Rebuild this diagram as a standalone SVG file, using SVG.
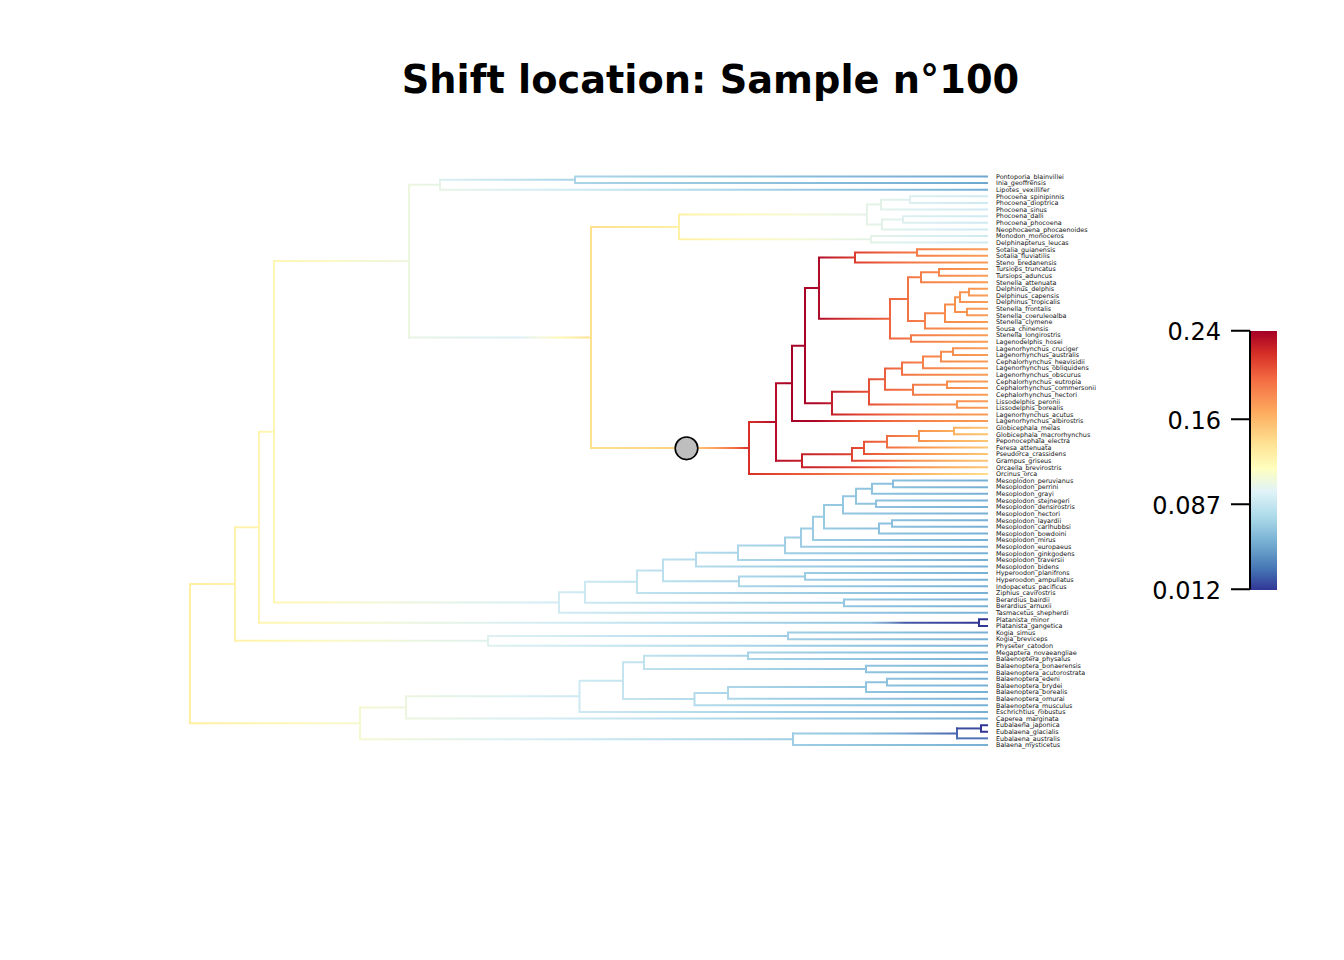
<svg xmlns="http://www.w3.org/2000/svg" width="1344" height="960" viewBox="0 0 1344 960">
<style>
.tl{font-family:"DejaVu Sans","Liberation Sans",sans-serif;font-size:6.4px;fill:#111}
.br{fill:none;stroke-width:2;stroke-linecap:square}
.title{font-family:"DejaVu Sans","Liberation Sans",sans-serif;font-size:38.3px;font-weight:bold;fill:#000}
.tick{font-family:"DejaVu Sans","Liberation Sans",sans-serif;font-size:24px;fill:#000}
</style>
<defs>
<linearGradient id="gbg" gradientUnits="userSpaceOnUse" x1="0" y1="0" x2="1000" y2="0">
<stop offset="0.19" stop-color="#FFEFA0"/><stop offset="0.26" stop-color="#FFF5B0"/><stop offset="0.33" stop-color="#FBF9C6"/><stop offset="0.40" stop-color="#EEF6DC"/><stop offset="0.47" stop-color="#E2F2EC"/><stop offset="0.54" stop-color="#D6EDF4"/><stop offset="0.60" stop-color="#C9E7F1"/><stop offset="0.70" stop-color="#B3DBEB"/><stop offset="0.80" stop-color="#9DCDE4"/><stop offset="0.90" stop-color="#89BFDD"/><stop offset="0.987" stop-color="#78B0D5"/>
</linearGradient>
<linearGradient id="gtop" gradientUnits="userSpaceOnUse" x1="0" y1="0" x2="1000" y2="0">
<stop offset="0.409" stop-color="#E8F4E4"/><stop offset="0.45" stop-color="#D8EEF3"/><stop offset="0.575" stop-color="#AAD5E8"/><stop offset="0.70" stop-color="#97C8E0"/><stop offset="0.85" stop-color="#82B9DA"/><stop offset="0.987" stop-color="#6FA7D0"/>
</linearGradient>
<linearGradient id="gplat" gradientUnits="userSpaceOnUse" x1="0" y1="0" x2="1000" y2="0">
<stop offset="0.26" stop-color="#FFF5B0"/><stop offset="0.33" stop-color="#FBF9C6"/><stop offset="0.40" stop-color="#EEF6DC"/><stop offset="0.47" stop-color="#E2F2EC"/><stop offset="0.54" stop-color="#D6EDF4"/><stop offset="0.60" stop-color="#C9E7F1"/><stop offset="0.70" stop-color="#B3DBEB"/><stop offset="0.80" stop-color="#9DCDE4"/><stop offset="0.87" stop-color="#8EC3DF"/><stop offset="0.89" stop-color="#6E93C6"/><stop offset="0.905" stop-color="#4559A6"/><stop offset="0.98" stop-color="#313695"/>
</linearGradient>
<linearGradient id="geub" gradientUnits="userSpaceOnUse" x1="0" y1="0" x2="1000" y2="0">
<stop offset="0.793" stop-color="#9ECEE4"/><stop offset="0.86" stop-color="#90C4DF"/><stop offset="0.90" stop-color="#7AA9D2"/><stop offset="0.94" stop-color="#5579B8"/><stop offset="0.957" stop-color="#4A66AE"/>
</linearGradient>
<linearGradient id="gdstem" gradientUnits="userSpaceOnUse" x1="0" y1="0" x2="1000" y2="0">
<stop offset="0.409" stop-color="#E8F4E4"/><stop offset="0.47" stop-color="#E0F1EF"/><stop offset="0.52" stop-color="#DBEFF3"/><stop offset="0.545" stop-color="#F4F8D4"/><stop offset="0.56" stop-color="#FFF6B5"/><stop offset="0.591" stop-color="#FEE08E"/>
</linearGradient>
<linearGradient id="gpho" gradientUnits="userSpaceOnUse" x1="0" y1="0" x2="1000" y2="0">
<stop offset="0.591" stop-color="#FEE08E"/><stop offset="0.64" stop-color="#FEE99C"/><stop offset="0.679" stop-color="#FFF1A6"/><stop offset="0.74" stop-color="#FFF8BF"/><stop offset="0.80" stop-color="#F5F9D4"/><stop offset="0.866" stop-color="#E5F3E6"/><stop offset="0.92" stop-color="#DAEFF1"/><stop offset="0.987" stop-color="#CFE9F2"/>
</linearGradient>
<linearGradient id="gdcirc" gradientUnits="userSpaceOnUse" x1="0" y1="0" x2="1000" y2="0">
<stop offset="0.591" stop-color="#FEE08E"/><stop offset="0.686" stop-color="#FDD27E"/><stop offset="0.71" stop-color="#FCAE63"/><stop offset="0.735" stop-color="#F36B42"/><stop offset="0.749" stop-color="#D73027"/>
</linearGradient>
<linearGradient id="gdel" gradientUnits="userSpaceOnUse" x1="0" y1="0" x2="1000" y2="0">
<stop offset="0.749" stop-color="#D73027"/><stop offset="0.77" stop-color="#BC1429"/><stop offset="0.79" stop-color="#A50026"/><stop offset="0.815" stop-color="#AA0629"/><stop offset="0.835" stop-color="#C5242B"/><stop offset="0.86" stop-color="#DF4431"/><stop offset="0.89" stop-color="#EE6540"/><stop offset="0.92" stop-color="#F57F4A"/><stop offset="0.96" stop-color="#F8934F"/><stop offset="0.987" stop-color="#F99D58"/>
</linearGradient>
<linearGradient id="gbf" gradientUnits="userSpaceOnUse" x1="0" y1="0" x2="1000" y2="0">
<stop offset="0.776" stop-color="#B8102A"/><stop offset="0.802" stop-color="#C32029"/><stop offset="0.85" stop-color="#DD4131"/><stop offset="0.865" stop-color="#E75434"/><stop offset="0.887" stop-color="#F06E43"/><stop offset="0.92" stop-color="#F8934F"/><stop offset="0.955" stop-color="#FCB160"/><stop offset="0.987" stop-color="#FDC574"/>
</linearGradient>
<linearGradient id="gorc" gradientUnits="userSpaceOnUse" x1="0" y1="0" x2="1000" y2="0">
<stop offset="0.749" stop-color="#D73027"/><stop offset="0.79" stop-color="#E85234"/><stop offset="0.85" stop-color="#F6834A"/><stop offset="0.90" stop-color="#FBA85C"/><stop offset="0.95" stop-color="#FDC977"/><stop offset="0.987" stop-color="#FEDC88"/>
</linearGradient>
<linearGradient id="gleg" gradientUnits="userSpaceOnUse" x1="0" y1="331" x2="0" y2="590">
<stop offset="0" stop-color="#A50026"/><stop offset="0.09" stop-color="#D73027"/><stop offset="0.19" stop-color="#F46D43"/><stop offset="0.32" stop-color="#FDAE61"/><stop offset="0.43" stop-color="#FEE090"/><stop offset="0.53" stop-color="#FFFFBF"/><stop offset="0.62" stop-color="#E0F3F8"/><stop offset="0.72" stop-color="#ABD9E9"/><stop offset="0.82" stop-color="#74ADD1"/><stop offset="0.92" stop-color="#4575B4"/><stop offset="1" stop-color="#313695"/>
</linearGradient>
</defs>
<rect width="1344" height="960" fill="#fff"/>
<text class="title" x="710.5" y="93" text-anchor="middle">Shift location: Sample n°100</text>
<g id="connectors">
<path class="br" stroke="url(#gbg)" d="M190 584.05V723.3M235 527.25V640.86M259 431.82V622.68M274 261.12V602.52M409 184.77V337.46M440 179.81V189.72M488 635.9V645.81M788 632.59V639.2M893 480.56V487.17M872 483.87V493.78M876 500.39V507M856 488.82V503.7M843 496.26V513.61M892 520.22V526.83M879 523.53V533.44M824 504.94V528.48M813 516.71V540.05M801 528.38V546.66M785 537.52V553.27M738 545.4V559.88M696 552.64V566.49M805 573.1V579.71M739 576.41V586.32M663 559.57V581.36M637 570.46V592.93M844 599.54V606.15M585 581.7V602.85M559 592.27V612.76M748 652.42V659.03M866 665.64V672.25M644 655.73V668.95M887 678.86V685.47M866 682.17V692.08M728 687.12V698.69M694.5 692.91V705.3M623 662.34V699.1M579.5 680.72V711.91M406 696.32V718.52M793 733.4V744.96M360 707.42V739.18
M190 584.05H235M190 723.3H360M235 527.25H259M235 640.86H488M259 431.82H274M274 261.12H409M274 602.52H559M409 184.77H440M440 189.72H987M488 635.9H788M488 645.81H987M788 632.59H987M788 639.2H987
M559 592.27H585M559 612.76H987M585 581.7H637M585 602.85H844M844 599.54H987M844 606.15H987M637 570.46H663M637 592.93H987M663 559.57H696M663 581.36H739M739 576.41H805M739 586.32H987M805 573.1H987M805 579.71H987M696 552.64H738M696 566.49H987M738 545.4H785M738 559.88H987M785 537.52H801M785 553.27H987M801 528.38H813M801 546.66H987M813 516.71H824M813 540.05H987M824 504.94H843M824 528.48H879M879 523.53H892M879 533.44H987M892 520.22H987M892 526.83H987M843 496.26H856M843 513.61H987M856 488.82H872M856 503.7H876M876 500.39H987M876 507H987M872 483.87H893M872 493.78H987M893 480.56H987M893 487.17H987
M360 707.42H406M360 739.18H793M406 696.32H579.5M406 718.52H987M579.5 680.72H623M579.5 711.91H987M623 662.34H644M623 699.1H694.5M644 655.73H748M644 668.95H866M748 652.42H987M748 659.03H987M866 665.64H987M866 672.25H987M694.5 692.91H728M694.5 705.3H987M728 687.12H866M728 698.69H987M866 682.17H887M866 692.08H987M887 678.86H987M887 685.47H987M793 744.96H987"/>
<path class="br" stroke="url(#gtop)" d="M440 179.81H575M575 176.5V183.11M575 176.5H987M575 183.11H987"/>
<path class="br" stroke="url(#gplat)" d="M259 622.68H979"/>
<path class="br" stroke="#313695" d="M979 619.37V625.98M979 619.37H987M979 625.98H987"/>
<path class="br" stroke="url(#geub)" d="M793 733.4H957"/>
<path class="br" stroke="#4A66AE" d="M957 728.44V738.35"/>
<path class="br" stroke="#4F73B4" d="M957 738.35H987"/>
<path class="br" stroke="#3B4CA0" d="M957 728.44H981"/>
<path class="br" stroke="#313695" d="M981 725.13V731.74M981 725.13H987M981 731.74H987"/>
<path class="br" stroke="url(#gdstem)" d="M409 337.46H591"/>
<path class="br" stroke="#FEE08E" d="M591 226.9V448.02"/>
<path class="br" stroke="url(#gpho)" d="M591 226.9H679M679 214.51V239.3M679 214.51H867M679 239.3H871M867 204.6V224.42M867 204.6H881M867 224.42H882M881 199.64V209.55M881 199.64H910M881 209.55H987M910 196.33V202.94M910 196.33H987M910 202.94H987M882 219.47V229.38M882 219.47H903M882 229.38H987M903 216.16V222.77M903 216.16H987M903 222.77H987M871 235.99V242.6M871 235.99H987M871 242.6H987"/>
<path class="br" stroke="url(#gdcirc)" d="M591 448.02H749"/>
<path class="br" stroke="url(#gdel)" d="M749 422.09V473.95M749 422.09H776M776 383.35V460.83M776 383.35H792M792 345.64V421.07M792 345.64H805M792 421.07H987M805 288.12V403.15M805 288.12H819M805 403.15H832
M819 257.47V318.77M819 257.47H855M819 318.77H890M855 252.52V262.43M855 252.52H917M855 262.43H987M917 249.21V255.82M917 249.21H987M917 255.82H987M890 299.09V338.45M890 299.09H908M890 338.45H911M911 335.14V341.75M911 335.14H987M911 341.75H987M908 277.3V320.89M908 277.3H921M908 320.89H925M921 272.35V282.26M921 272.35H939M921 282.26H987M939 269.04V275.65M939 269.04H987M939 275.65H987M925 313.24V328.53M925 313.24H945M925 328.53H987M945 304.57V321.92M945 304.57H955M945 321.92H987M955 297.13V312M955 297.13H960M955 312H967M960 292.18V302.09M960 292.18H969M960 302.09H987M969 288.87V295.48M969 288.87H987M969 295.48H987M967 308.7V315.31M967 308.7H987M967 315.31H987
M832 391.84V414.46M832 391.84H869M832 414.46H987M869 379.14V404.55M869 379.14H885M869 404.55H957M957 401.24V407.85M957 401.24H987M957 407.85H987M885 368.6V389.67M885 368.6H902M885 389.67H913M913 384.72V394.63M913 384.72H947M913 394.63H987M947 381.41V388.02M947 381.41H987M947 388.02H987M902 362.41V374.8M902 362.41H923M902 374.8H987M923 356.62V368.19M923 356.62H941M923 368.19H987M941 351.67V361.58M941 351.67H953M941 361.58H987M953 348.36V354.97M953 348.36H987M953 354.97H987"/>
<path class="br" stroke="url(#gbf)" d="M776 460.83H802M802 454.33V467.34M802 454.33H852M802 467.34H987M852 447.92V460.73M852 447.92H864M852 460.73H987M864 441.73V454.12M864 441.73H887M864 454.12H987M887 435.94V447.51M887 435.94H919M887 447.51H987M919 430.99V440.9M919 430.99H954M919 440.9H987M954 427.68V434.29M954 427.68H987M954 434.29H987"/>
<path class="br" stroke="url(#gorc)" d="M749 473.95H987"/>
</g>
<g id="shift-marker"><circle cx="686.5" cy="448.3" r="11.3" fill="#BEBEBE" stroke="#000" stroke-width="1.6"/></g>
<g id="tips" transform="translate(0 0.4)">
<g id="t1"><text class="tl" x="996" y="178.4">Pontoporia_blainvillei</text></g>
<g id="t2"><text class="tl" x="996" y="185.01">Inia_geoffrensis</text></g>
<g id="t3"><text class="tl" x="996" y="191.62">Lipotes_vexillifer</text></g>
<g id="t4"><text class="tl" x="996" y="198.23">Phocoena_spinipinnis</text></g>
<g id="t5"><text class="tl" x="996" y="204.84">Phocoena_dioptrica</text></g>
<g id="t6"><text class="tl" x="996" y="211.45">Phocoena_sinus</text></g>
<g id="t7"><text class="tl" x="996" y="218.06">Phocoena_dalli</text></g>
<g id="t8"><text class="tl" x="996" y="224.67">Phocoena_phocoena</text></g>
<g id="t9"><text class="tl" x="996" y="231.28">Neophocaena_phocaenoides</text></g>
<g id="t10"><text class="tl" x="996" y="237.89">Monodon_monoceros</text></g>
<g id="t11"><text class="tl" x="996" y="244.5">Delphinapterus_leucas</text></g>
<g id="t12"><text class="tl" x="996" y="251.11">Sotalia_guianensis</text></g>
<g id="t13"><text class="tl" x="996" y="257.72">Sotalia_fluviatilis</text></g>
<g id="t14"><text class="tl" x="996" y="264.33">Steno_bredanensis</text></g>
<g id="t15"><text class="tl" x="996" y="270.94">Tursiops_truncatus</text></g>
<g id="t16"><text class="tl" x="996" y="277.55">Tursiops_aduncus</text></g>
<g id="t17"><text class="tl" x="996" y="284.16">Stenella_attenuata</text></g>
<g id="t18"><text class="tl" x="996" y="290.77">Delphinus_delphis</text></g>
<g id="t19"><text class="tl" x="996" y="297.38">Delphinus_capensis</text></g>
<g id="t20"><text class="tl" x="996" y="303.99">Delphinus_tropicalis</text></g>
<g id="t21"><text class="tl" x="996" y="310.6">Stenella_frontalis</text></g>
<g id="t22"><text class="tl" x="996" y="317.21">Stenella_coeruleoalba</text></g>
<g id="t23"><text class="tl" x="996" y="323.82">Stenella_clymene</text></g>
<g id="t24"><text class="tl" x="996" y="330.43">Sousa_chinensis</text></g>
<g id="t25"><text class="tl" x="996" y="337.04">Stenella_longirostris</text></g>
<g id="t26"><text class="tl" x="996" y="343.65">Lagenodelphis_hosei</text></g>
<g id="t27"><text class="tl" x="996" y="350.26">Lagenorhynchus_cruciger</text></g>
<g id="t28"><text class="tl" x="996" y="356.87">Lagenorhynchus_australis</text></g>
<g id="t29"><text class="tl" x="996" y="363.48">Cephalorhynchus_heavisidii</text></g>
<g id="t30"><text class="tl" x="996" y="370.09">Lagenorhynchus_obliquidens</text></g>
<g id="t31"><text class="tl" x="996" y="376.7">Lagenorhynchus_obscurus</text></g>
<g id="t32"><text class="tl" x="996" y="383.31">Cephalorhynchus_eutropia</text></g>
<g id="t33"><text class="tl" x="996" y="389.92">Cephalorhynchus_commersonii</text></g>
<g id="t34"><text class="tl" x="996" y="396.53">Cephalorhynchus_hectori</text></g>
<g id="t35"><text class="tl" x="996" y="403.14">Lissodelphis_peronii</text></g>
<g id="t36"><text class="tl" x="996" y="409.75">Lissodelphis_borealis</text></g>
<g id="t37"><text class="tl" x="996" y="416.36">Lagenorhynchus_acutus</text></g>
<g id="t38"><text class="tl" x="996" y="422.97">Lagenorhynchus_albirostris</text></g>
<g id="t39"><text class="tl" x="996" y="429.58">Globicephala_melas</text></g>
<g id="t40"><text class="tl" x="996" y="436.19">Globicephala_macrorhynchus</text></g>
<g id="t41"><text class="tl" x="996" y="442.8">Peponocephala_electra</text></g>
<g id="t42"><text class="tl" x="996" y="449.41">Feresa_attenuata</text></g>
<g id="t43"><text class="tl" x="996" y="456.02">Pseudorca_crassidens</text></g>
<g id="t44"><text class="tl" x="996" y="462.63">Grampus_griseus</text></g>
<g id="t45"><text class="tl" x="996" y="469.24">Orcaella_brevirostris</text></g>
<g id="t46"><text class="tl" x="996" y="475.85">Orcinus_orca</text></g>
<g id="t47"><text class="tl" x="996" y="482.46">Mesoplodon_peruvianus</text></g>
<g id="t48"><text class="tl" x="996" y="489.07">Mesoplodon_perrini</text></g>
<g id="t49"><text class="tl" x="996" y="495.68">Mesoplodon_grayi</text></g>
<g id="t50"><text class="tl" x="996" y="502.29">Mesoplodon_stejnegeri</text></g>
<g id="t51"><text class="tl" x="996" y="508.9">Mesoplodon_densirostris</text></g>
<g id="t52"><text class="tl" x="996" y="515.51">Mesoplodon_hectori</text></g>
<g id="t53"><text class="tl" x="996" y="522.12">Mesoplodon_layardii</text></g>
<g id="t54"><text class="tl" x="996" y="528.73">Mesoplodon_carlhubbsi</text></g>
<g id="t55"><text class="tl" x="996" y="535.34">Mesoplodon_bowdoini</text></g>
<g id="t56"><text class="tl" x="996" y="541.95">Mesoplodon_mirus</text></g>
<g id="t57"><text class="tl" x="996" y="548.56">Mesoplodon_europaeus</text></g>
<g id="t58"><text class="tl" x="996" y="555.17">Mesoplodon_ginkgodens</text></g>
<g id="t59"><text class="tl" x="996" y="561.78">Mesoplodon_traversii</text></g>
<g id="t60"><text class="tl" x="996" y="568.39">Mesoplodon_bidens</text></g>
<g id="t61"><text class="tl" x="996" y="575">Hyperoodon_planifrons</text></g>
<g id="t62"><text class="tl" x="996" y="581.61">Hyperoodon_ampullatus</text></g>
<g id="t63"><text class="tl" x="996" y="588.22">Indopacetus_pacificus</text></g>
<g id="t64"><text class="tl" x="996" y="594.83">Ziphius_cavirostris</text></g>
<g id="t65"><text class="tl" x="996" y="601.44">Berardius_bairdii</text></g>
<g id="t66"><text class="tl" x="996" y="608.05">Berardius_arnuxii</text></g>
<g id="t67"><text class="tl" x="996" y="614.66">Tasmacetus_shepherdi</text></g>
<g id="t68"><text class="tl" x="996" y="621.27">Platanista_minor</text></g>
<g id="t69"><text class="tl" x="996" y="627.88">Platanista_gangetica</text></g>
<g id="t70"><text class="tl" x="996" y="634.49">Kogia_simus</text></g>
<g id="t71"><text class="tl" x="996" y="641.1">Kogia_breviceps</text></g>
<g id="t72"><text class="tl" x="996" y="647.71">Physeter_catodon</text></g>
<g id="t73"><text class="tl" x="996" y="654.32">Megaptera_novaeangliae</text></g>
<g id="t74"><text class="tl" x="996" y="660.93">Balaenoptera_physalus</text></g>
<g id="t75"><text class="tl" x="996" y="667.54">Balaenoptera_bonaerensis</text></g>
<g id="t76"><text class="tl" x="996" y="674.15">Balaenoptera_acutorostrata</text></g>
<g id="t77"><text class="tl" x="996" y="680.76">Balaenoptera_edeni</text></g>
<g id="t78"><text class="tl" x="996" y="687.37">Balaenoptera_brydei</text></g>
<g id="t79"><text class="tl" x="996" y="693.98">Balaenoptera_borealis</text></g>
<g id="t80"><text class="tl" x="996" y="700.59">Balaenoptera_omurai</text></g>
<g id="t81"><text class="tl" x="996" y="707.2">Balaenoptera_musculus</text></g>
<g id="t82"><text class="tl" x="996" y="713.81">Eschrichtius_robustus</text></g>
<g id="t83"><text class="tl" x="996" y="720.42">Caperea_marginata</text></g>
<g id="t84"><text class="tl" x="996" y="727.03">Eubalaena_japonica</text></g>
<g id="t85"><text class="tl" x="996" y="733.64">Eubalaena_glacialis</text></g>
<g id="t86"><text class="tl" x="996" y="740.25">Eubalaena_australis</text></g>
<g id="t87"><text class="tl" x="996" y="746.86">Balaena_mysticetus</text></g>
</g>
<g id="legend">
<rect x="1250" y="331" width="27" height="259" fill="url(#gleg)"/>
<path d="M1250 330.7V589.3M1231 330.7H1250M1231 419.3H1250M1231 504.3H1250M1231 589.3H1250" fill="none" stroke="#000" stroke-width="2"/>
<text class="tick" x="1221" y="340.2" text-anchor="end">0.24</text>
<text class="tick" x="1221" y="428.8" text-anchor="end">0.16</text>
<text class="tick" x="1221" y="513.8" text-anchor="end">0.087</text>
<text class="tick" x="1221" y="598.8" text-anchor="end">0.012</text>
</g>
</svg>
